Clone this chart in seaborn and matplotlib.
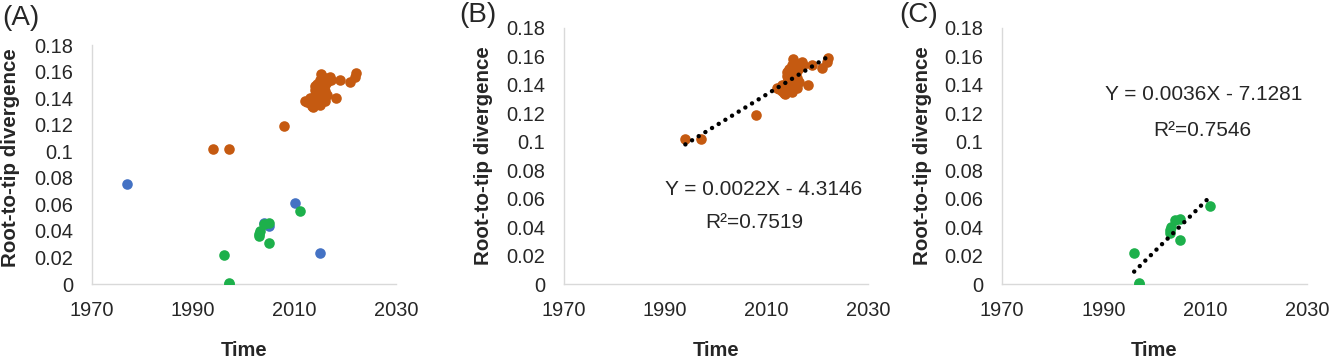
import pandas as pd
import matplotlib.pyplot as plt
import seaborn as sns

# sampling year and root-to-tip divergence
orange_year = [1994, 1997, 2008, 2012, 2012.5, 2013, 2013, 2013.5, 2013.7, 2014, 2014, 2014,
               2014, 2014.5, 2014.5, 2014.5, 2015, 2015, 2015, 2015, 2015, 2015, 2015.2,
               2015.5, 2015.5, 2015.5, 2016, 2016, 2016, 2016, 2016.5, 2017, 2017.2, 2016.5,
               2018.2, 2019, 2020.9, 2021.9, 2022.1]
orange_div = [0.102, 0.102, 0.119, 0.138, 0.137, 0.140, 0.136, 0.134, 0.1335, 0.138, 0.142, 0.146,
              0.149, 0.140, 0.144, 0.151, 0.135, 0.139, 0.143, 0.147, 0.150, 0.154, 0.158,
              0.141, 0.148, 0.153, 0.138, 0.145, 0.150, 0.155, 0.152, 0.156, 0.154, 0.142,
              0.140, 0.154, 0.152, 0.156, 0.159]

green_year = [1996, 1997, 1997, 2003, 2003, 2003.2, 2004, 2005, 2005, 2011]
green_div = [0.0215, 0.001, 0.0, 0.038, 0.036, 0.040, 0.045, 0.046, 0.031, 0.055]

blue_year = [1977, 2004, 2005, 2010, 2015]
blue_div = [0.075, 0.046, 0.044, 0.061, 0.023]

eq_b = ["Y = 0.0022X - 4.3146", "R²=0.7519"]
eq_c = ["Y = 0.0036X - 7.1281", "R²=0.7546"]

orange = pd.DataFrame({"year": orange_year, "div": orange_div})
green = pd.DataFrame({"year": green_year, "div": green_div})
blue = pd.DataFrame({"year": blue_year, "div": blue_div})

sns.set_style("white")
plt.rcParams["font.family"] = ["Liberation Sans", "DejaVu Sans"]

C_OR = "#C55A11"
C_GR = "#1DB04B"
C_BL = "#4472C4"

fig = plt.figure(figsize=(13.3, 3.58), dpi=100)
ax_a = fig.add_axes([0.0689, 0.2067, 0.2288, 0.6676])
ax_b = fig.add_axes([0.4238, 0.2067, 0.2288, 0.7151])
ax_c = fig.add_axes([0.7534, 0.2067, 0.2293, 0.7151])

pt = dict(s=58, linewidth=0, legend=False, zorder=3)
sns.scatterplot(data=blue, x="year", y="div", color=C_BL, ax=ax_a, **pt)
sns.scatterplot(data=orange, x="year", y="div", color=C_OR, ax=ax_a, **pt)
sns.scatterplot(data=green, x="year", y="div", color=C_GR, ax=ax_a, **pt)
sns.scatterplot(data=orange, x="year", y="div", color=C_OR, ax=ax_b, **pt)
sns.scatterplot(data=green, x="year", y="div", color=C_GR, ax=ax_c, **pt)

line = dict(color="black", linewidth=3.2, linestyle=(0, (0.01, 1.75)),
            solid_capstyle="round", dash_capstyle="round", zorder=4)
sns.regplot(data=orange, x="year", y="div", scatter=False, ci=None, truncate=True,
            ax=ax_b, line_kws=line)
sns.regplot(data=green, x="year", y="div", scatter=False, ci=None, truncate=True,
            ax=ax_c, line_kws=line)

for ax in (ax_a, ax_b, ax_c):
    ax.set_xlim(1970, 2030)
    ax.set_ylim(0, 0.18)
    ax.set_xticks([1970, 1990, 2010, 2030])
    ax.set_yticks([0, 0.02, 0.04, 0.06, 0.08, 0.1, 0.12, 0.14, 0.16, 0.18])
    ax.set_yticklabels(["0", "0.02", "0.04", "0.06", "0.08", "0.1", "0.12", "0.14", "0.16", "0.18"])
    ax.tick_params(length=0, labelsize=14.4)
    ax.tick_params(axis="y", pad=13.5)
    ax.tick_params(axis="x", pad=12)
    for s in ("top", "right"):
        ax.spines[s].set_visible(False)
    for s in ("left", "bottom"):
        ax.spines[s].set_color("#D9D9D9")
        ax.spines[s].set_linewidth(1.0)
    ax.set_xlabel("Time", fontsize=14.5, fontweight="bold", labelpad=15)
    ax.set_ylabel("Root-to-tip divergence", fontsize=14.8, fontweight="bold", labelpad=9)
    ax.patch.set_alpha(0)

# panel A's axis title sits a bit above the middle of its axis
ax_a.yaxis.set_label_coords(-0.235, 0.527)

ax_b.text(2009.4, 0.0661, eq_b[0], fontsize=15, ha="center", va="center")
ax_b.text(2007.5, 0.0429, eq_b[1], fontsize=15, ha="center", va="center")
ax_c.text(2009.7, 0.1334, eq_c[0], fontsize=15, ha="center", va="center")
ax_c.text(2009.4, 0.1078, eq_c[1], fontsize=15, ha="center", va="center")

fig.text(2 / 1330, 1 - 18 / 358, "(A)", fontsize=20, va="center", ha="left")
fig.text(459 / 1330, 1 - 15 / 358, "(B)", fontsize=20, va="center", ha="left")
fig.text(899 / 1330, 1 - 15 / 358, "(C)", fontsize=20, va="center", ha="left")

fig.savefig("out.png", dpi=100)
